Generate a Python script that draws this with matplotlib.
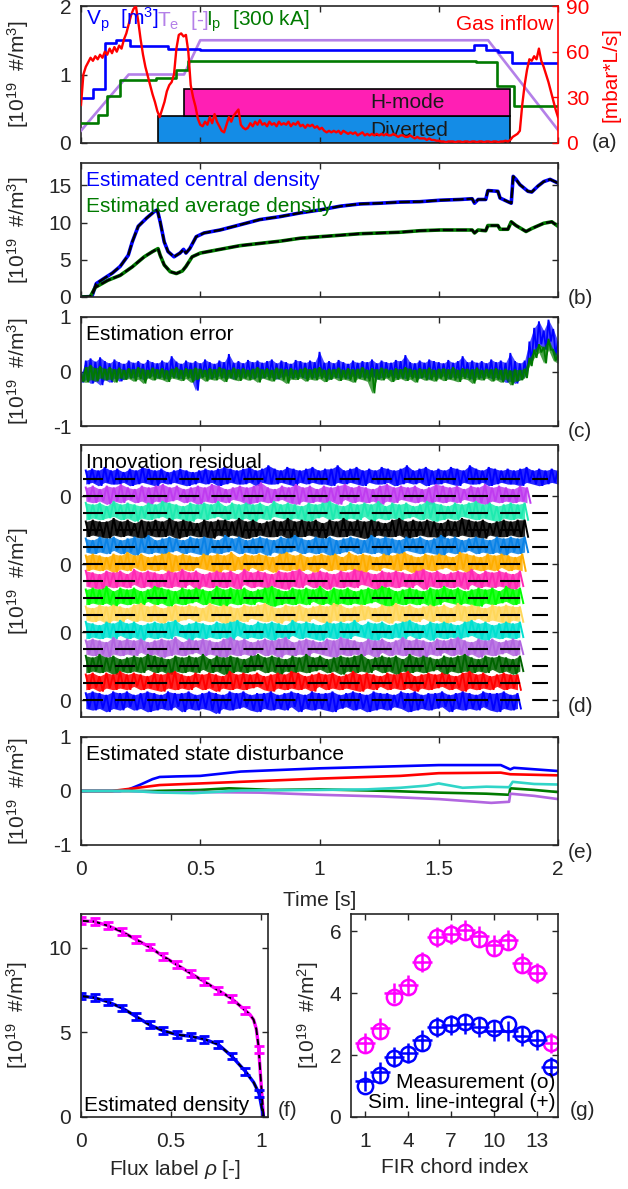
import numpy as np
import matplotlib
matplotlib.use('Agg')
import matplotlib.pyplot as plt
from matplotlib.patches import Rectangle

plt.rcParams['font.family'] = ['Liberation Sans', 'DejaVu Sans']
plt.rcParams['font.size'] = 15
plt.rcParams['mathtext.fontset'] = 'custom'
plt.rcParams['mathtext.rm'] = 'Liberation Sans'
plt.rcParams['mathtext.it'] = 'Liberation Sans:italic'
plt.rcParams['mathtext.bf'] = 'Liberation Sans:bold'

# ---------------- data: panel (a) ----------------
vp_t = [0, 0.05, 0.10, 0.148, 0.206, 0.365, 0.50, 1.648, 1.698, 1.749, 1.807, 2.0]
vp_v = [0.655, 0.79, 1.46, 1.51, 1.41, 1.37, 1.36, 1.43, 1.36, 1.33, 1.17, 1.17]
ip_t = [0, 0.072, 0.111, 0.164, 0.315, 0.399, 0.449, 1.658, 1.745, 1.817, 2.0]
ip_v = [0.29, 0.41, 0.68, 0.92, 0.95, 1.06, 1.20, 1.18, 0.83, 0.54, 0.54]
te_t = [0, 0.20, 0.432, 0.50, 1.707, 2.0]
te_v = [0.18, 1.0, 1.0, 1.5, 1.5, 0.19]
gas = [25, 45, 50, 53, 56, 54, 57, 55, 58, 56,
       60, 58, 62, 59, 63, 60, 64, 62, 68, 72,
       78, 84, 88, 90, 80, 68, 58, 50, 44, 38,
       32, 27, 21, 17, 22, 27, 34, 38, 40, 45,
       62, 71, 72, 70, 71, 60, 38, 30, 24, 16,
       12, 11, 14, 12, 17, 13, 19, 14, 11, 8,
       7, 12, 17, 14, 18, 20, 22, 12, 10, 9,
       10, 13, 11, 14, 12, 15, 12, 13, 11, 14,
       12, 13, 11, 14, 12, 13, 12, 14, 11, 13,
       12, 14, 11, 12, 10, 12, 11, 12, 10, 11,
       9, 10, 8, 7, 8, 7, 8, 7, 8, 6,
       8, 7, 6, 7, 6, 7, 5, 6, 7, 5,
       6, 5, 6, 5, 6, 5, 6, 5, 6, 5,
       5, 6, 5, 4, 5, 5, 4, 4, 5, 4,
       3, 4, 3, 3, 3, 2, 3, 2, 2, 1.5,
       1.5, 1, 1, 0.5, 1, 1, 1, 0.5, 1, 1,
       0.5, 1, 1, 0.5, 1, 1, 0.5, 1, 1, 0.5,
       1, 1, 0.5, 1, 1, 0.5, 1, 1, 1.5, 1,
       2, 4, 5, 6, 8, 25, 38, 48, 55, 54,
       57, 55, 62, 54, 50, 45, 40, 34, 28, 22, 17]
hmode_span = [0.432, 1.80]
hmode_y = [0.39, 0.79]
divert_span = [0.323, 1.80]
divert_y = [0.0, 0.39]

# ---------------- data: panel (b) ----------------
nc_t = [0, 0.038, 0.047, 0.064, 0.097, 0.131, 0.164, 0.198, 0.215, 0.24, 0.275, 0.308, 0.32,
        0.332, 0.349, 0.365, 0.39, 0.415, 0.43, 0.44, 0.456, 0.483, 0.516, 0.583, 0.667,
        0.75, 0.835, 0.92, 1.003, 1.087, 1.17, 1.254, 1.338, 1.42, 1.506, 1.59, 1.64,
        1.65, 1.665, 1.697, 1.706, 1.748, 1.757, 1.79, 1.804, 1.812, 1.824, 1.84, 1.874,
        1.89, 1.916, 1.94, 1.967, 2.0]
nc_v = [0, 0.05, 0.2, 1.8, 2.5, 3.2, 4.1, 5.6, 7.4, 9.5, 10.6, 11.5, 11.7,
        10.1, 7.4, 6.1, 5.4, 5.9, 6.4, 5.9, 6.5, 8.1, 8.6, 9.0, 9.7,
        10.4, 10.8, 11.3, 11.7, 12.2, 12.5, 12.6, 12.75, 12.8, 13.0, 13.1, 13.2,
        12.6, 13.1, 13.1, 14.3, 14.2, 13.3, 12.8, 12.6, 16.2, 15.8, 15.1, 14.2,
        14.1, 14.9, 15.5, 15.8, 15.3]
na_t = [0, 0.038, 0.06, 0.113, 0.164, 0.215, 0.265, 0.30, 0.323, 0.332, 0.349, 0.374, 0.40,
        0.425, 0.44, 0.466, 0.50, 0.583, 0.667, 0.75, 0.835, 0.92, 1.003, 1.087, 1.17,
        1.254, 1.338, 1.42, 1.506, 1.59, 1.64, 1.65, 1.665, 1.697, 1.706, 1.748, 1.757,
        1.79, 1.804, 1.824, 1.866, 1.89, 1.94, 1.974, 2.0]
na_v = [0, 0, 1.3, 2.25, 2.9, 4.05, 5.4, 6.1, 6.5, 5.6, 4.3, 3.4, 3.15,
        3.5, 4.1, 5.4, 5.9, 6.4, 6.9, 7.2, 7.5, 7.9, 8.1, 8.3, 8.5,
        8.6, 8.7, 8.9, 9.0, 9.0, 9.0, 8.6, 9.0, 8.9, 9.6, 9.6, 9.1,
        9.1, 10.1, 9.6, 8.8, 9.2, 9.9, 10.1, 9.5]

# ---------------- data: panel (c) (hundredths) ----------------
err_c_up = [-5, 20, 24, 18, 26, 19, 15, 22, 17, 14, 20, 16, 19, 14, 21, 17, 15, 20, 16, 28,
            18, 14, 20, 16, 19, 15, 22, 17, 14, 20, 17, 32, 16, 19, 15, 21, 17, 20, 16, 19,
            22, 15, 20, 17, 14, 21, 19, 16, 20, 17, 36, 16, 19, 15, 21, 17, 14, 20, 16, 19,
            17, 22, 15, 20, 17, 16, 21, 19, 30, 17, 15, 20, 16, 22, 19, 17, 15, 21, 16, 19,
            28, 17, 20, 16, 19, 15, 22, 17, 20, 16, 34, 19, 15, 20, 55, 80, 92, 75, 95, 78, 55]
err_c_lo = [-20, -15, -22, -18, -25, -15, -20, -12, -18, -14, -10, -12, -9, -15, -11, -8, -12, -10, -14, -9,
            -11, -13, -8, -12, -35, -10, -9, -13, -11, -8, -12, -10, -14, -9, -11, -8, -13, -10, -12, -9,
            -11, -14, -10, -8, -12, -11, -9, -13, -10, -12, -8, -11, -14, -9, -12, -10, -13, -8, -11, -10,
            -12, -9, -14, -11, -10, -8, -12, -10, -13, -9, -11, -12, -10, -14, -9, -11, -8, -13, -10, -12,
            -9, -11, -14, -10, -12, -8, -13, -11, -15, -20, -18, -22, -15, -10, 15, 35, 50, 40, 55, 30, 20]
err_a_up = [-5, 8, 12, 6, 10, 5, 8, 4, 7, 3, 6, 4, 8, 5, 3, 7, 4, 6, 2, 5,
            8, 3, 6, 4, 7, 5, 3, 6, 4, 8, 5, 3, 7, 4, 6, 3, 5, 8, 4, 6,
            3, 7, 5, 4, 6, 3, 5, 7, 4, 6, 8, 3, 5, 4, 7, 3, 6, 4, 5, 8,
            3, 6, 4, 7, 5, 3, 6, 4, 8, 5, 3, 6, 4, 7, 3, 5, 6, 4, 8, 3,
            6, 5, 4, 7, 3, 5, 4, 6, 3, 5, 2, 4, 3, 5, 25, 40, 50, 45, 60, 40, 30]
err_a_lo = [-18, -20, -15, -18, -12, -16, -14, -20, -12, -15, -13, -18, -14, -22, -12, -16, -13, -15, -19, -12,
            -14, -17, -13, -20, -15, -12, -18, -14, -16, -13, -19, -12, -15, -17, -13, -16, -14, -20, -12, -15,
            -18, -13, -16, -22, -14, -15, -12, -18, -14, -16, -13, -19, -15, -12, -17, -14, -16, -20, -13, -15,
            -18, -40, -14, -16, -12, -19, -15, -13, -17, -14, -20, -12, -16, -15, -18, -13, -17, -14, -16, -19,
            -13, -15, -22, -14, -16, -12, -18, -15, -20, -14, -25, -18, -16, -12, 10, 25, 35, 15, 40, 20, 15]

# ---------------- data: panel (d) residual envelopes (tenths of a channel step) ----------------
d1_up = [5,6,5,7,5,6,4,6,5,7,6,5,6,4,5,6,5,4,5,6,5,6,7,6,5,6,7,5,6,8,6,5,7,6,5,6,7,5,6,6,
         8,5,6,7,5,6,5,7,6,5,6,8,5,6,7,5,6,5,7,6,5,8,6,5,7,6,5,6,5,6,7,5,6,5,6,5]
d1_dn = [3,2,4,2,3,3,2,4,3,2,3,4,2,3,2,3,4,3,2,3,2,4,3,2,3,3,2,4,2,3,3,2,3,4,2,3,2,3,3,4,
         2,3,2,3,4,2,3,3,2,4,3,2,3,2,4,3,3,2,3,4,2,3,3,2,4,3,2,3,3,4,2,3,4,3,2,3]
d2_up = [5,6,4,6,5,7,5,4,6,5,6,7,5,6,4,5,6,5,7,6,4,5,6,5,6,8,5,4,6,5,7,5,6,4,6,5,6,7,5,6,5,4,6,7,5,6,5,6,4,5,7,6,5,6,4,6,5,7,5,6,5,4,6,5]
d2_dn = [3,4,3,5,3,4,2,4,3,5,3,4,3,2,4,3,5,3,4,3,4,2,3,5,4,3,4,3,2,4,5,3,4,3,4,3,5,2,4,3,4,3,5,3,4,2,3,4,3,5,3,4,3,4,2,3,4,5,3,4,3,4,3,4]
d3_up = [6,5,6,4,7,5,6,5,4,6,5,7,6,5,4,6,5,6,5,7,4,6,5,6,5,6,4,7,5,6,5,4,6,5,6,7,5,4,6,5,6,5,7,4,6,5,6,4,5,7,6,5,4,6,5,6,7,5,6,4,5,6,5,6]
d3_dn = [4,3,4,3,2,4,3,5,3,4,3,2,4,3,4,5,3,4,3,2,4,3,4,3,5,3,4,2,3,4,3,4,5,3,2,4,3,4,3,4,2,5,3,4,3,4,3,2,4,3,5,4,3,4,2,3,4,3,4,5,3,4,3,4]
d4_up = [5,6,5,5,7,5,6,4,6,5,6,5,7,5,6,5,4,6,5,6,6,5,7,5,6,4,5,6,5,7,5,6,5,6,4,6,5,7,5,6,5,6,5,4,6,7,5,6,5,6,5,4,6,5,7,6,5,6,4,5,6,5,6,6]
d4_dn = [4,3,4,5,3,4,3,4,5,3,4,4,3,5,4,3,4,4,5,3,4,3,4,5,4,3,4,4,3,5,4,4,3,4,5,3,4,4,3,4,5,4,3,4,4,3,5,4,3,4,4,5,3,4,3,4,4,5,3,4,4,3,4,4]
d5_up = [5,4,6,5,6,4,5,6,5,7,4,5,6,5,4,6,5,6,5,4,7,5,6,4,5,6,5,4,6,5,7,5,4,6,5,6,4,5,6,5,4,7,5,6,5,4,6,5,6,4,5,7,5,6,4,5,6,5,4,6,5,6,5,6]
d5_dn = [3,4,3,4,2,4,3,5,3,4,3,4,3,2,4,3,4,5,3,4,3,2,4,3,4,3,5,3,4,3,2,4,3,4,3,5,4,3,2,4,3,4,3,5,3,4,2,3,4,3,4,5,3,4,3,2,4,3,4,3,5,3,4,3]
d6_up = [5,6,5,4,6,5,7,5,6,4,5,6,7,5,6,5,4,6,5,6,5,7,4,6,5,6,5,4,6,7,5,6,4,5,6,5,6,4,7,5,6,5,4,6,5,6,7,5,4,6,5,6,5,4,7,6,5,4,6,5,6,5,4,6]
d6_dn = [4,3,4,3,5,3,4,2,4,3,4,3,5,4,3,4,2,3,4,5,3,4,3,4,2,4,3,5,3,4,3,4,3,5,2,4,3,4,3,4,5,3,4,2,3,4,3,5,4,3,4,3,2,4,3,5,3,4,3,4,2,4,3,4]
d7_up = [6,5,4,6,5,6,4,7,5,6,5,4,6,5,7,5,6,4,5,6,5,6,4,7,5,6,5,4,6,5,6,7,4,5,6,5,4,6,5,7,6,5,4,6,5,6,5,4,6,7,5,6,4,5,6,5,7,4,6,5,6,5,4,6]
d7_dn = [3,4,5,3,4,3,4,2,4,3,5,3,4,3,4,2,5,3,4,3,4,3,5,2,4,3,4,3,4,5,3,4,2,4,3,5,3,4,3,4,2,3,5,4,3,4,3,4,2,5,3,4,3,4,3,5,2,4,3,4,3,4,5,3]
d8_up = [5,6,5,7,4,6,5,6,4,5,7,6,5,4,6,5,6,5,4,7,5,6,5,6,4,5,6,7,5,4,6,5,6,5,7,4,6,5,6,4,5,6,5,7,6,4,5,6,5,4,6,5,7,5,6,4,5,6,5,6,4,7,5,6]
d8_dn = [4,3,4,3,5,3,4,3,4,2,4,3,5,3,4,3,2,4,3,4,5,3,4,3,4,2,3,5,4,3,4,3,4,2,4,3,5,3,4,3,4,3,2,4,5,3,4,3,4,3,5,4,2,3,4,3,4,5,3,4,3,2,4,3]
d9_up = [5,4,6,5,6,5,4,6,7,5,6,4,5,6,5,6,5,4,7,5,6,5,4,6,5,6,7,5,4,6,5,6,4,5,6,5,7,6,4,5,6,5,4,6,5,7,5,6,4,5,6,5,6,4,7,5,6,5,4,6,5,6,5,5]
d9_dn = [3,4,3,5,3,4,2,4,3,4,3,5,3,4,3,2,4,3,4,3,5,4,3,4,2,3,4,3,5,3,4,3,4,2,4,5,3,4,3,4,3,2,4,3,5,3,4,3,4,2,4,3,5,4,3,4,3,2,4,3,4,5,3,4]
d10_up = [6,5,4,6,5,7,5,6,4,5,6,5,6,7,4,5,6,5,4,6,5,6,7,5,4,6,5,6,5,4,7,5,6,5,4,6,5,6,5,7,4,6,5,6,4,5,6,7,5,4,6,5,6,5,4,6,7,5,6,4,5,6,5,6]
d10_dn = [4,3,4,3,4,2,4,3,5,3,4,3,4,2,3,5,3,4,3,4,3,5,2,4,3,4,3,5,3,4,2,4,3,4,5,3,4,3,4,2,3,4,5,3,4,3,4,2,4,3,5,3,4,3,4,3,2,4,5,3,4,3,4,3]
d11_up = [5,6,5,4,7,5,6,5,6,4,5,6,5,7,4,6,5,6,5,4,6,7,5,6,4,5,6,5,6,7,4,5,6,5,4,6,5,7,6,5,4,6,5,6,4,5,7,5,6,5,4,6,5,6,7,5,4,6,5,6,4,5,6,5]
d11_dn = [3,4,3,5,3,4,3,4,2,4,3,5,4,3,4,3,2,4,3,4,5,3,4,3,4,2,4,3,5,3,4,3,4,2,3,4,5,3,4,3,4,3,5,2,4,3,4,3,4,5,3,4,2,4,3,4,3,5,3,4,3,2,4,3]
d12_up = [6,5,7,5,6,4,5,6,5,7,6,5,4,6,5,6,5,7,4,6,5,6,5,4,6,7,5,6,5,4,6,5,7,5,6,4,5,6,5,6,7,4,5,6,5,6,4,7,5,6,5,4,6,5,6,7,5,4,6,5,6,5,4,6]
d12_dn = [4,3,4,3,5,3,4,3,4,2,4,3,5,3,4,3,4,2,4,3,5,4,3,4,3,2,4,3,5,3,4,3,4,3,2,4,3,5,3,4,3,4,2,4,3,5,3,4,3,4,3,2,5,3,4,3,4,3,4,2,4,3,5,3]
d13_up = [5,6,4,6,5,7,5,6,5,4,6,5,6,7,5,4,6,5,6,5,4,7,5,6,5,6,4,5,6,5,7,6,4,5,6,5,6,4,5,7,5,6,5,4,6,5,6,7,4,5,6,5,6,5,4,6,7,5,6,4,5,6,5,5]
d13_dn = [4,3,5,3,4,3,4,2,4,3,4,5,3,4,3,4,2,4,3,5,3,4,3,4,3,2,4,5,3,4,3,4,3,5,2,4,3,4,3,4,5,3,4,2,4,3,4,3,5,3,4,3,2,4,3,5,3,4,3,4,2,4,3,4]
d14_up = [4,5,4,3,5,4,5,3,4,5,4,3,5,4,4,5,3,4,5,4,3,5,4,5,3,4,4,5,3,4,5,4,3,5,4,4,5,3,4,5,4,3,5,4,4,3,5,4,5,3,4,4,5,3,4,5,4,3,5,4,4,5,3,4]
d14_dn = [5,6,5,7,5,6,4,6,5,7,6,5,6,4,7,5,6,5,6,8,5,6,5,4,6,7,5,6,5,6,4,7,5,6,5,6,7,5,4,6,5,7,6,5,6,4,5,7,6,5,6,5,4,7,5,6,5,6,4,6,7,5,6,5]
d_colors = ['#0000FF', '#C03CF0', '#1EEBB0', '#000000', '#0A82E6', '#FFAE00', '#FF28B4',
            '#00FF00', '#FFD75A', '#00E0D0', '#B266E0', '#006400', '#FF0000', '#0000FF']
d_tend = [2.0, 1.87, 1.86, 1.86, 1.86, 1.85, 1.84, 1.84, 1.84, 1.84, 1.84, 1.84, 1.83, 1.83]

# ---------------- data: panel (e) ----------------
e_blue_t = [0, 0.164, 0.2, 0.25, 0.3, 0.33, 0.4, 0.5, 0.67, 1.0, 1.34, 1.5, 1.76, 1.80, 1.815, 2.0]
e_blue_v = [0, 0, 0.03, 0.12, 0.22, 0.26, 0.27, 0.28, 0.36, 0.42, 0.46, 0.48, 0.48, 0.40, 0.43, 0.37]
e_red_t = [0, 0.13, 0.33, 0.67, 1.0, 1.34, 1.5, 1.76, 1.80, 2.0]
e_red_v = [0, 0, 0.11, 0.17, 0.23, 0.28, 0.33, 0.34, 0.31, 0.29]
e_grn_t = [0, 0.3, 0.5, 0.62, 0.8, 1.0, 1.3, 1.5, 1.7, 1.795, 1.80, 1.9, 2.0]
e_grn_v = [0, 0, 0.02, 0.05, 0.02, 0.03, 0.0, -0.03, -0.05, -0.07, 0.05, 0.02, -0.02]
e_pur_t = [0, 0.2, 0.35, 0.5, 0.75, 1.0, 1.25, 1.5, 1.72, 1.795, 1.80, 1.9, 2.0]
e_pur_v = [0, 0, -0.03, -0.02, -0.03, -0.07, -0.10, -0.15, -0.22, -0.20, -0.05, -0.09, -0.15]
e_tur_t = [0, 0.2, 0.35, 0.47, 0.67, 1.0, 1.2, 1.34, 1.45, 1.5, 1.55, 1.6, 1.7, 1.795, 1.81, 1.9, 2.0]
e_tur_v = [0, 0, -0.03, -0.04, 0.01, 0.02, 0.03, 0.06, 0.10, 0.14, 0.10, 0.06, 0.08, 0.07, 0.17, 0.13, 0.12]

# ---------------- data: panel (f) ----------------
rho_pts = [0, 0.076, 0.152, 0.228, 0.305, 0.381, 0.457, 0.533, 0.609, 0.686, 0.762, 0.838, 0.914, 0.99]
prof_mag = [11.6, 11.55, 11.3, 10.95, 10.5, 10.05, 9.5, 9.0, 8.5, 8.0, 7.5, 7.0, 6.3, 4.0]
prof_blu = [7.15, 7.05, 6.8, 6.45, 5.95, 5.45, 5.1, 4.87, 4.77, 4.6, 4.3, 3.6, 2.7, 1.4]
curve_mag_rho = [0, 0.076, 0.152, 0.228, 0.305, 0.381, 0.457, 0.533, 0.609, 0.686, 0.762, 0.838, 0.914,
                 0.94, 0.96, 0.975, 0.987, 1.0, 1.015]
curve_mag_v = [11.6, 11.55, 11.3, 10.95, 10.5, 10.05, 9.5, 9.0, 8.5, 8.0, 7.5, 7.0, 6.3,
               6.05, 5.75, 5.2, 4.2, 2.2, 0]
curve_blu_rho = [0, 0.076, 0.152, 0.228, 0.305, 0.381, 0.457, 0.533, 0.609, 0.686, 0.762, 0.838, 0.914,
                 0.96, 0.99, 1.015]
curve_blu_v = [7.15, 7.05, 6.8, 6.45, 5.95, 5.45, 5.1, 4.87, 4.77, 4.6, 4.3, 3.6, 2.7, 2.05, 1.4, 0]

# ---------------- data: panel (g) ----------------
chord = [1, 2, 3, 4, 5, 6, 7, 8, 9, 10, 11, 12, 13, 14]
meas_mag = [2.33, 2.76, 3.88, 4.18, 4.99, 5.82, 5.89, 5.98, 5.73, 5.44, 5.65, 4.90, 4.64, 2.40]
sim_mag = [2.38, 2.86, 3.99, 4.26, 5.01, 5.82, 5.92, 6.03, 5.84, 5.55, 5.71, 4.96, 4.66, 2.40]
meas_blu = [1.01, 1.36, 1.90, 2.04, 2.40, 2.92, 3.00, 3.05, 2.97, 2.86, 3.00, 2.68, 2.54, 1.61]
sim_blu = [1.15, 1.44, 1.95, 2.06, 2.47, 2.92, 2.97, 3.00, 2.92, 2.79, 2.76, 2.60, 2.47, 1.61]

# ---------------- layout ----------------
W, H = 628, 1189
fig = plt.figure(figsize=(W / 100, H / 100), dpi=100)
TXT = '#262626'
FS = 15


def rect(x0, y0, x1, y1):
    return [x0 / W, 1 - y1 / H, (x1 - x0) / W, (y1 - y0) / H]


def ftext(x, y, s, **kw):
    fig.text(x / W, 1 - y / H, s, **kw)


def style(ax):
    ax.tick_params(direction='in', top=True, right=True, length=4, width=1,
                   colors=TXT, labelsize=FS)
    ax.tick_params(axis='x', pad=11)
    ax.tick_params(axis='y', pad=7)
    for s in ax.spines.values():
        s.set_linewidth(1.2)
        s.set_color(TXT)


def time_axis(ax, labels=False):
    ax.set_xlim(0, 2)
    ax.set_xticks([0, 0.5, 1, 1.5, 2])
    if labels:
        ax.set_xticklabels(['0', '0.5', '1', '1.5', '2'])
    else:
        ax.set_xticklabels([])


def noisy_band(ax, t0, t1, hi, lo, color, lw, alpha, z=2):
    # noise trace alternating between the read upper and lower excursions
    n = min(len(hi), len(lo))
    tt = np.linspace(t0, t1, n)
    h = (t1 - t0) / (n - 1) / 2 if n > 1 else 0
    xs = np.empty(2 * n)
    ys = np.empty(2 * n)
    xs[0::2] = tt
    xs[1::2] = tt + h
    ys[0::2] = hi[:n]
    ys[1::2] = lo[:n]
    ax.fill_between(tt, lo[:n], hi[:n], color=color, lw=0, alpha=alpha, zorder=z)
    ax.plot(xs, ys, color=color, lw=lw, zorder=z, solid_joinstyle='miter')


YL3 = r'[10$^{19}$  #/m$^3$]'
YL2 = r'[10$^{19}$  #/m$^2$]'
YLX = -0.105

# ---- (a)
axa = fig.add_axes(rect(81, 6, 558, 143))
style(axa)
time_axis(axa)
axa.set_ylim(0, 2)
axa.set_yticks([0, 1, 2])
axa.set_yticklabels(['0', '1', '2'])
axa.tick_params(right=False)
axa.spines['right'].set_visible(False)
axa.add_patch(Rectangle((divert_span[0], divert_y[0]), divert_span[1] - divert_span[0],
                        divert_y[1] - divert_y[0], facecolor='#148CE6', edgecolor='black', lw=1.2, zorder=1))
axa.add_patch(Rectangle((hmode_span[0], hmode_y[0]), hmode_span[1] - hmode_span[0],
                        hmode_y[1] - hmode_y[0], facecolor='#FF1FB4', edgecolor='black', lw=1.2, zorder=1))
axa.text(1.37, 0.59, 'H-mode', ha='center', va='center', fontsize=FS, color='#1a1a1a', zorder=2)
axa.text(1.375, 0.18, 'Diverted', ha='center', va='center', fontsize=FS, color='#1a1a1a', zorder=2)
axa.plot(te_t, te_v, color='#B480E8', lw=1.9, zorder=3)
axa.plot(ip_t, ip_v, color='#007A00', lw=1.9, drawstyle='steps-post', zorder=3)
axa.plot(vp_t, vp_v, color='#0000FF', lw=1.9, drawstyle='steps-post', zorder=3)
axa.set_ylabel(YL3, color=TXT)
axa.yaxis.set_label_coords(YLX, 0.5)

ax2 = axa.twinx()
ax2.set_xlim(0, 2)
ax2.set_ylim(0, 90)
ax2.set_yticks([0, 30, 60, 90])
ax2.set_yticklabels(['0', '30', '60', '90'])
ax2.tick_params(direction='in', length=4, width=1, colors='red', labelsize=FS, pad=6)
for k in ['left', 'top', 'bottom']:
    ax2.spines[k].set_visible(False)
ax2.spines['right'].set_color('red')
ax2.spines['right'].set_linewidth(1.2)
t_gas = np.linspace(0, 2, len(gas))
ax2.plot(t_gas, gas, color='#FF0000', lw=1.7, zorder=4)
ax2.set_ylabel('[mbar*L/s]', color='red')
ax2.yaxis.set_label_coords(1.092, 0.5)

ftext(86, 26, r'V$_\mathrm{p}$  [m$^3$]', color='#0000FF', fontsize=FS, va='baseline')
ftext(157, 26, r'T$_\mathrm{e}$  [-]', color='#B480E8', fontsize=FS, va='baseline')
ftext(206, 26, r'I$_\mathrm{p}$  [300 kA]', color='#007A00', fontsize=FS, va='baseline')
ftext(553, 24, 'Gas inflow', color='red', fontsize=FS, ha='right', va='center')

# ---- (b)
axb = fig.add_axes(rect(81, 163, 558, 297))
style(axb)
time_axis(axb)
axb.set_ylim(0, 18)
axb.set_yticks([0, 5, 10, 15])
axb.set_yticklabels(['0', '5', '10', '15'])
axb.plot(nc_t, nc_v, color='#0000FF', lw=2.6)
axb.plot(na_t, na_v, color='#007A00', lw=2.6)
axb.plot(nc_t, nc_v, color='black', lw=1.7, ls=(0, (4.5, 1.2)))
axb.plot(na_t, na_v, color='black', lw=1.7, ls=(0, (4.5, 1.2)))
axb.set_ylabel(YL3, color=TXT)
axb.yaxis.set_label_coords(YLX, 0.5)
ftext(86, 180, 'Estimated central density', color='#0000FF', fontsize=FS, va='center')
ftext(86, 207, 'Estimated average density', color='#007A00', fontsize=FS, va='center')

# ---- (c)
axc = fig.add_axes(rect(81, 317, 558, 426))
style(axc)
time_axis(axc)
axc.set_ylim(-1, 1)
axc.set_yticks([-1, 0, 1])
axc.set_yticklabels(['-1', '0', '1'])
noisy_band(axc, 0, 2, np.array(err_c_up) / 100, np.array(err_c_lo) / 100, '#0000FF', 1.3, 0.7)
noisy_band(axc, 0, 2, np.array(err_a_up) / 100, np.array(err_a_lo) / 100, '#007A00', 1.3, 0.7)
axc.set_ylabel(YL3, color=TXT)
axc.yaxis.set_label_coords(YLX, 0.5)
ftext(86, 335, 'Estimation error', color='black', fontsize=FS, va='center')

# ---- (d)
axd = fig.add_axes(rect(81, 445, 558, 717))
style(axd)
time_axis(axd)
axd.set_ylim(-15, 1)
axd.set_yticks([-2, -6, -10, -14])
axd.set_yticklabels(['0', '0', '0', '0'])
ups = [d1_up, d2_up, d3_up, d4_up, d5_up, d6_up, d7_up, d8_up, d9_up, d10_up, d11_up, d12_up, d13_up, d14_up]
dns = [d1_dn, d2_dn, d3_dn, d4_dn, d5_dn, d6_dn, d7_dn, d8_dn, d9_dn, d10_dn, d11_dn, d12_dn, d13_dn, d14_dn]
for k in range(14):
    off = -(k + 1)
    up = off + np.array(ups[k]) / 10
    lo = off - np.array(dns[k]) / 10
    noisy_band(axd, 0.02, d_tend[k], up, lo, d_colors[k], 1.4, 0.85)
for k in range(14):
    off = -(k + 1)
    axd.plot([0.01, 1.96], [off, off], color='black', lw=1.5, ls=(0, (9.6, 5.8)), zorder=3)
axd.set_ylabel(YL2, color=TXT)
axd.yaxis.set_label_coords(YLX, 0.5)
ftext(86, 463, 'Innovation residual', color='black', fontsize=FS, va='center')

# ---- (e)
axe = fig.add_axes(rect(81, 737, 558, 845))
style(axe)
time_axis(axe, labels=True)
axe.set_ylim(-1, 1)
axe.set_yticks([-1, 0, 1])
axe.set_yticklabels(['-1', '0', '1'])
axe.plot(e_blue_t, e_blue_v, color='#0000FF', lw=1.9)
axe.plot(e_red_t, e_red_v, color='#FF0000', lw=1.9)
axe.plot(e_grn_t, e_grn_v, color='#007A00', lw=1.9)
axe.plot(e_pur_t, e_pur_v, color='#B266E0', lw=1.9)
axe.plot(e_tur_t, e_tur_v, color='#30D5C8', lw=1.9)
axe.set_ylabel(YL3, color=TXT)
axe.yaxis.set_label_coords(YLX, 0.5)
axe.set_xlabel('Time [s]', color=TXT)
axe.xaxis.set_label_coords(0.5, -0.43)
ftext(86, 754, 'Estimated state disturbance', color='black', fontsize=FS, va='center')

# ---- (f)
axf = fig.add_axes(rect(81, 914, 268, 1117))
style(axf)
axf.set_xlim(0, 1.04)
axf.set_ylim(0, 12)
axf.set_xticks([0, 0.5, 1])
axf.set_xticklabels(['0', '0.5', '1'])
axf.set_yticks([0, 5, 10])
axf.set_yticklabels(['0', '5', '10'])
axf.plot(curve_mag_rho, curve_mag_v, color='#FF00FF', lw=2.4)
axf.plot(curve_blu_rho, curve_blu_v, color='#0000FF', lw=2.4)
axf.plot(curve_mag_rho, curve_mag_v, color='black', lw=1.4, ls=(0, (4, 2)))
axf.plot(curve_blu_rho, curve_blu_v, color='black', lw=1.4, ls=(0, (4, 2)))
axf.errorbar(rho_pts, prof_mag, yerr=0.2, fmt='none', ecolor='#FF00FF', elinewidth=2, capsize=3.5, capthick=2)
axf.errorbar(rho_pts, prof_blu, yerr=0.2, fmt='none', ecolor='#0000FF', elinewidth=2, capsize=3.5, capthick=2)
axf.set_ylabel(YL3, color=TXT)
axf.yaxis.set_label_coords(-0.272, 0.5)
axf.set_xlabel(r'Flux label $\rho$ [-]', color=TXT)
axf.xaxis.set_label_coords(0.5, -0.2)
axf.text(0.015, 0.7, 'Estimated density', fontsize=FS, color='black', va='center')

# ---- (g)
axg = fig.add_axes(rect(351, 914, 558, 1117))
style(axg)
axg.set_xlim(0, 14.5)
axg.set_ylim(0, 6.55)
axg.set_xticks([1, 4, 7, 10, 13])
axg.set_xticklabels(['1', '4', '7', '10', '13'])
axg.set_yticks([0, 2, 4, 6])
axg.set_yticklabels(['0', '2', '4', '6'])
axg.plot(chord, meas_mag, 'o', mfc='none', mec='#FF00FF', ms=11, mew=1.8)
axg.plot(chord, sim_mag, '+', color='#FF00FF', ms=14, mew=1.8)
axg.plot(chord, meas_blu, 'o', mfc='none', mec='#0000FF', ms=11, mew=1.8)
axg.plot(chord, sim_blu, '+', color='#0000FF', ms=14, mew=1.8)
axg.set_ylabel(YL2, color=TXT)
axg.yaxis.set_label_coords(-0.145, 0.5)
axg.set_xlabel('FIR chord index', color=TXT)
axg.xaxis.set_label_coords(0.5, -0.2)
ftext(555, 1082, 'Measurement (o)', fontsize=FS, color='black', ha='right', va='center')
ftext(555, 1102, 'Sim. line-integral (+)', fontsize=FS, color='black', ha='right', va='center')

# panel labels
for lab, x, y in [('(a)', 592, 143), ('(b)', 568, 298), ('(c)', 568, 432), ('(d)', 568, 706),
                  ('(e)', 568, 853), ('(f)', 278, 1110), ('(g)', 570, 1110)]:
    ftext(x, y, lab, fontsize=FS, color=TXT, va='center')

fig.savefig('out.png', dpi=100)
